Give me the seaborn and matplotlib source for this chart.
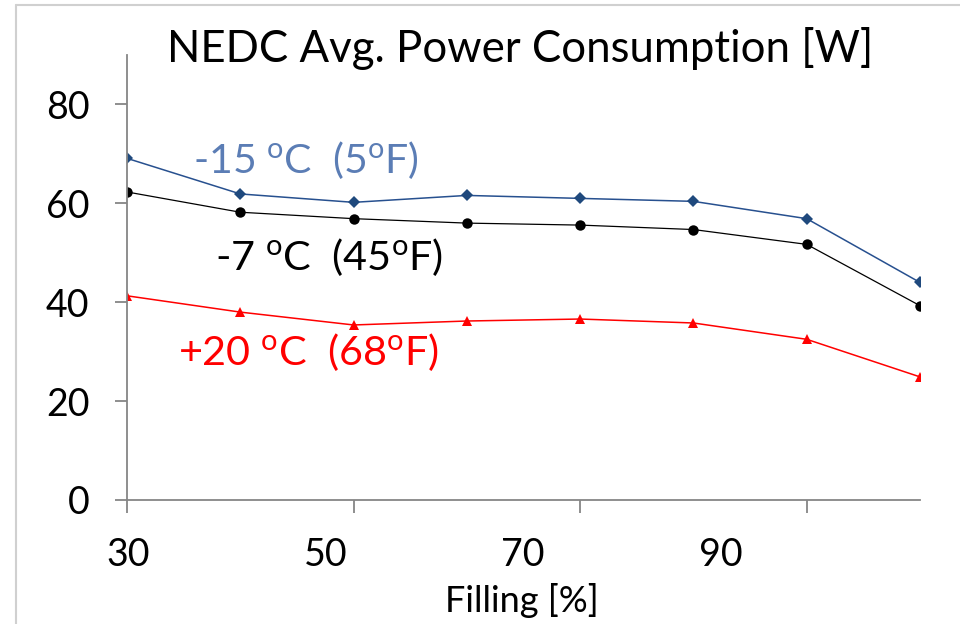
import matplotlib
matplotlib.use("Agg")
import matplotlib.pyplot as plt
import matplotlib.transforms as mtransforms
from matplotlib.lines import Line2D
import seaborn as sns
import pandas as pd

# ---- data ----
filling = [30, 40, 50, 60, 70, 80, 90, 100]
minus15 = [69.1, 61.9, 60.2, 61.6, 61.0, 60.4, 56.9, 44.0]
minus7 = [62.3, 58.2, 56.9, 56.0, 55.6, 54.7, 51.7, 39.3]
plus20 = [41.3, 38.0, 35.4, 36.2, 36.6, 35.8, 32.5, 24.9]
x_ticks = [30, 50, 70, 90]
y_ticks = [0, 20, 40, 60, 80]
title = "NEDC Avg. Power Consumption [W]"
xlabel = "Filling [%]"
series_labels = ["-15 $^{\\mathrm{o}}$C  (5$^{\\mathrm{o}}$F)",
                 "-7 $^{\\mathrm{o}}$C  (45$^{\\mathrm{o}}$F)",
                 "+20 $^{\\mathrm{o}}$C  (68$^{\\mathrm{o}}$F)"]

sns.set_theme(style="white")
plt.rcParams['font.family'] = ['Lato', 'DejaVu Sans']
plt.rcParams['mathtext.fontset'] = 'custom'
plt.rcParams['mathtext.rm'] = 'Lato'
plt.rcParams['mathtext.it'] = 'Lato'
plt.rcParams['mathtext.bf'] = 'Lato'
plt.rcParams['text.color'] = 'black'

fig = plt.figure(figsize=(9.6, 6.24), dpi=100)
ax = fig.add_axes([127/960, 1-500/624, (920-127)/960, (500-55)/624])

df = pd.DataFrame({"Filling": filling, "m15": minus15, "m7": minus7, "p20": plus20})

sns.lineplot(data=df, x="Filling", y="m15", ax=ax, color="#27508F", linewidth=1.1,
             marker="D", markersize=6, markeredgewidth=0, markerfacecolor="#1F497D")
sns.lineplot(data=df, x="Filling", y="m7", ax=ax, color="#000000", linewidth=0.9,
             marker="o", markersize=7.5, markeredgewidth=0, markerfacecolor="#000000")
sns.lineplot(data=df, x="Filling", y="p20", ax=ax, color="#FF0000", linewidth=1.1,
             marker="^", markersize=7.5, markeredgewidth=0, markerfacecolor="#FF0000")

ax.set_xlim(30, 100)
ax.set_ylim(0, 90)
ax.set_xticks(x_ticks)
ax.set_yticks(y_ticks)
ax.set_xticklabels([str(v) for v in x_ticks])
ax.set_yticklabels([str(v) for v in y_ticks])

for s in ["top", "right"]:
    ax.spines[s].set_visible(False)
for s in ["left", "bottom"]:
    ax.spines[s].set_color("#868686")
    ax.spines[s].set_linewidth(1.3)

ax.tick_params(axis="both", direction="out", length=9, width=1.3, color="#868686",
               labelsize=27, labelcolor="black", pad=18,
               bottom=True, left=True)

# shift x tick labels to match reference placement
offsets_px = [1, -28, -57, -86]
for lab, off in zip(ax.get_xticklabels(), offsets_px):
    lab.set_transform(lab.get_transform() +
                      mtransforms.ScaledTranslation(off / 100, 0, fig.dpi_scale_trans))

ax.set_xlabel(xlabel, fontsize=26, color="black", va="center")
ax.set_ylabel("")
ax.xaxis.set_label_coords(522/960, 1-600/624, transform=fig.transFigure)

fig.text(520/960, 1-48/624, title, fontsize=31.5, ha="center", va="center", color="black")

ax.text(35.8, 66.1, series_labels[0], fontsize=29.5, color="#5B7DB5", va="baseline", ha="left")
ax.text(37.8, 46.5, series_labels[1], fontsize=29.8, color="#000000", va="baseline", ha="left")
ax.text(34.5, 27.3, series_labels[2], fontsize=29.8, color="#FF0000", va="baseline", ha="left")

# chart frame
fig.add_artist(Line2D([16/960, 1], [1-5/624, 1-5/624], transform=fig.transFigure,
                      color="#D0D0D0", linewidth=1.5))
fig.add_artist(Line2D([16/960, 16/960], [0, 1-5/624], transform=fig.transFigure,
                      color="#D0D0D0", linewidth=1.5))

fig.savefig("out.png", dpi=100)
